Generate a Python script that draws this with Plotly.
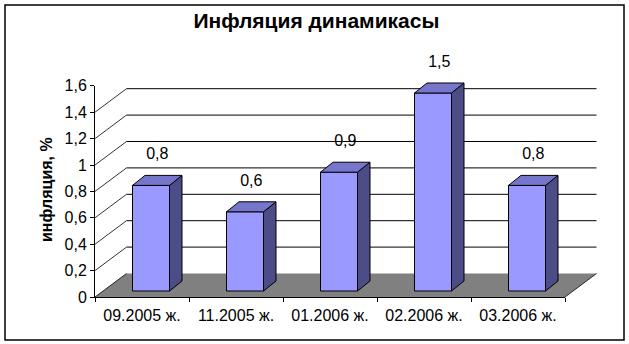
import plotly.graph_objects as go

# ---------------- data ----------------
categories = ["09.2005 ж.", "11.2005 ж.", "01.2006 ж.", "02.2006 ж.", "03.2006 ж."]
values = [0.8, 0.6, 0.9, 1.5, 0.8]
value_labels = ["0,8", "0,6", "0,9", "1,5", "0,8"]
y_ticks = [0, 0.2, 0.4, 0.6, 0.8, 1.0, 1.2, 1.4, 1.6]
y_tick_labels = ["0", "0,2", "0,4", "0,6", "0,8", "1", "1,2", "1,4", "1,6"]
title_text = "<b>Инфляция динамикасы</b>"
y_title = "<b>инфляция, %</b>"

# ---------------- geometry / style ----------------
W, H = 629, 344
AX_LEFT_PX, AX_RIGHT_PX = 95, 565      # front x-axis extent
ZERO_PX = 297                           # front zero level
PX_PER_VAL = 132.0
PX_PER_CAT = (AX_RIGHT_PX - AX_LEFT_PX) / len(categories)

def dxu(px):
    return px / PX_PER_CAT

def dyu(px):
    return px / PX_PER_VAL

x_lo = -0.5 - dxu(AX_LEFT_PX)
x_hi = -0.5 + dxu(W - AX_LEFT_PX)
y_lo = -dyu(H - ZERO_PX)
y_hi = dyu(ZERO_PX)

WALL_DX, WALL_DY = dxu(31.5), dyu(23.5)
BAR_W = dxu(37)
BAR_SHIFT = dxu(9)
BAR_BASE = dyu(6)
BAR_DX, BAR_DY = dxu(12.5), dyu(10)
LABEL_GAP = dyu(30)

FRONT_COL = "#9999FF"
TOP_COL = "#7676CC"
SIDE_COL = "#4C4C86"
FLOOR_COL = "#808080"
FONT = "Liberation Sans, Arial, sans-serif"

n = len(categories)
x_first, x_last = -0.5, n - 0.5

fig = go.Figure()

# floor
fig.add_trace(go.Scatter(
    x=[x_first, x_last, x_last + WALL_DX, x_first + WALL_DX, x_first],
    y=[0, 0, WALL_DY, WALL_DY, 0],
    fill="toself", fillcolor=FLOOR_COL, mode="lines", line=dict(width=0),
    hoverinfo="skip", showlegend=False))

# back-wall gridlines and left-wall diagonals
gx, gy, dx_, dy_ = [], [], [], []
for v in y_ticks[:-1]:
    if v > 0:
        gx += [x_first + WALL_DX, x_last + WALL_DX, None]
        gy += [v + WALL_DY, v + WALL_DY, None]
    dx_ += [x_first, x_first + WALL_DX, None]
    dy_ += [v, v + WALL_DY, None]
dx_ += [x_last, x_last + WALL_DX, None]
dy_ += [0, WALL_DY, None]
fig.add_trace(go.Scatter(x=gx, y=gy, mode="lines", line=dict(color="black", width=1),
                         hoverinfo="skip", showlegend=False))
fig.add_trace(go.Scatter(x=dx_, y=dy_, mode="lines", line=dict(color="black", width=0.8),
                         hoverinfo="skip", showlegend=False))

# bars
fx, fy, tx, ty, sx, sy = [], [], [], [], [], []
for i, v in enumerate(values):
    c = i + BAR_SHIFT
    l, r = c - BAR_W / 2, c + BAR_W / 2
    b, t = BAR_BASE, BAR_BASE + v
    fx += [l, r, r, l, l, None]
    fy += [b, b, t, t, b, None]
    tx += [l, r, r + BAR_DX, l + BAR_DX, l, None]
    ty += [t, t, t + BAR_DY, t + BAR_DY, t, None]
    sx += [r, r + BAR_DX, r + BAR_DX, r, r, None]
    sy += [b, b + BAR_DY, t + BAR_DY, t, b, None]
for xs, ys, col in [(sx, sy, SIDE_COL), (fx, fy, FRONT_COL), (tx, ty, TOP_COL)]:
    fig.add_trace(go.Scatter(x=xs, y=ys, fill="toself", fillcolor=col, mode="lines",
                             line=dict(color="black", width=1), hoverinfo="skip",
                             showlegend=False))

# data labels
fig.add_trace(go.Scatter(
    x=[i + BAR_SHIFT + BAR_DX / 2 for i in range(n)],
    y=[BAR_BASE + v + LABEL_GAP for v in values],
    text=value_labels, mode="text", textposition="middle center",
    textfont=dict(family=FONT, size=16, color="black"),
    hoverinfo="skip", showlegend=False, cliponaxis=False))

# invisible trace for the real axes subplot
fig.add_trace(go.Scatter(x=[0], y=[0], xaxis="x2", yaxis="y2", mode="markers",
                         marker=dict(opacity=0), hoverinfo="skip", showlegend=False))

fig.update_layout(
    width=W, height=H, autosize=False,
    margin=dict(l=0, r=0, t=0, b=0, pad=0, autoexpand=False),
    paper_bgcolor="white", plot_bgcolor="rgba(0,0,0,0)",
    font=dict(family=FONT, size=16, color="black"),
    title=dict(text=title_text, x=0.503, xanchor="center", y=1 - 21 / H, yanchor="middle",
               yref="container", automargin=False,
               font=dict(family=FONT, size=21, color="black")),
    xaxis=dict(domain=[0, 1], range=[x_lo, x_hi], visible=False, fixedrange=True,
               automargin=False),
    yaxis=dict(domain=[0, 1], range=[y_lo, y_hi], visible=False, fixedrange=True,
               automargin=False),
    xaxis2=dict(domain=[AX_LEFT_PX / W, AX_RIGHT_PX / W], range=[x_first, x_last],
                anchor="y2", showline=True, linecolor="black", linewidth=1,
                showgrid=False, zeroline=False, automargin=False, fixedrange=True,
                tickmode="array", tickvals=list(range(n)), ticktext=categories,
                ticks="", ticklabelstandoff=4,
                minor=dict(tickmode="array", tickvals=[k - 0.5 for k in range(n + 1)],
                           ticks="outside", ticklen=4, tickcolor="black", showgrid=False),
                tickfont=dict(family=FONT, size=16, color="black")),
    yaxis2=dict(domain=[(H - ZERO_PX) / H, (H - ZERO_PX + y_ticks[-1] * PX_PER_VAL) / H],
                range=[0, y_ticks[-1]], anchor="x2", showline=True, linecolor="black",
                linewidth=1, showgrid=False, zeroline=False, automargin=False,
                fixedrange=True,
                tickmode="array", tickvals=y_ticks, ticktext=y_tick_labels,
                ticks="outside", ticklen=4, tickcolor="black",
                tickfont=dict(family=FONT, size=16, color="black")),
    annotations=[dict(text=y_title, xref="paper", yref="paper", x=46 / W, y=1 - 190 / H,
                      xanchor="center", yanchor="middle", textangle=-90, showarrow=False,
                      font=dict(family=FONT, size=16, color="black"))],
    shapes=[dict(type="rect", xref="paper", yref="paper", x0=5 / W, x1=624 / W,
                 y0=1 - 340 / H, y1=1 - 5 / H, line=dict(color="black", width=1.5))],
)

fig.write_html("out.html")
